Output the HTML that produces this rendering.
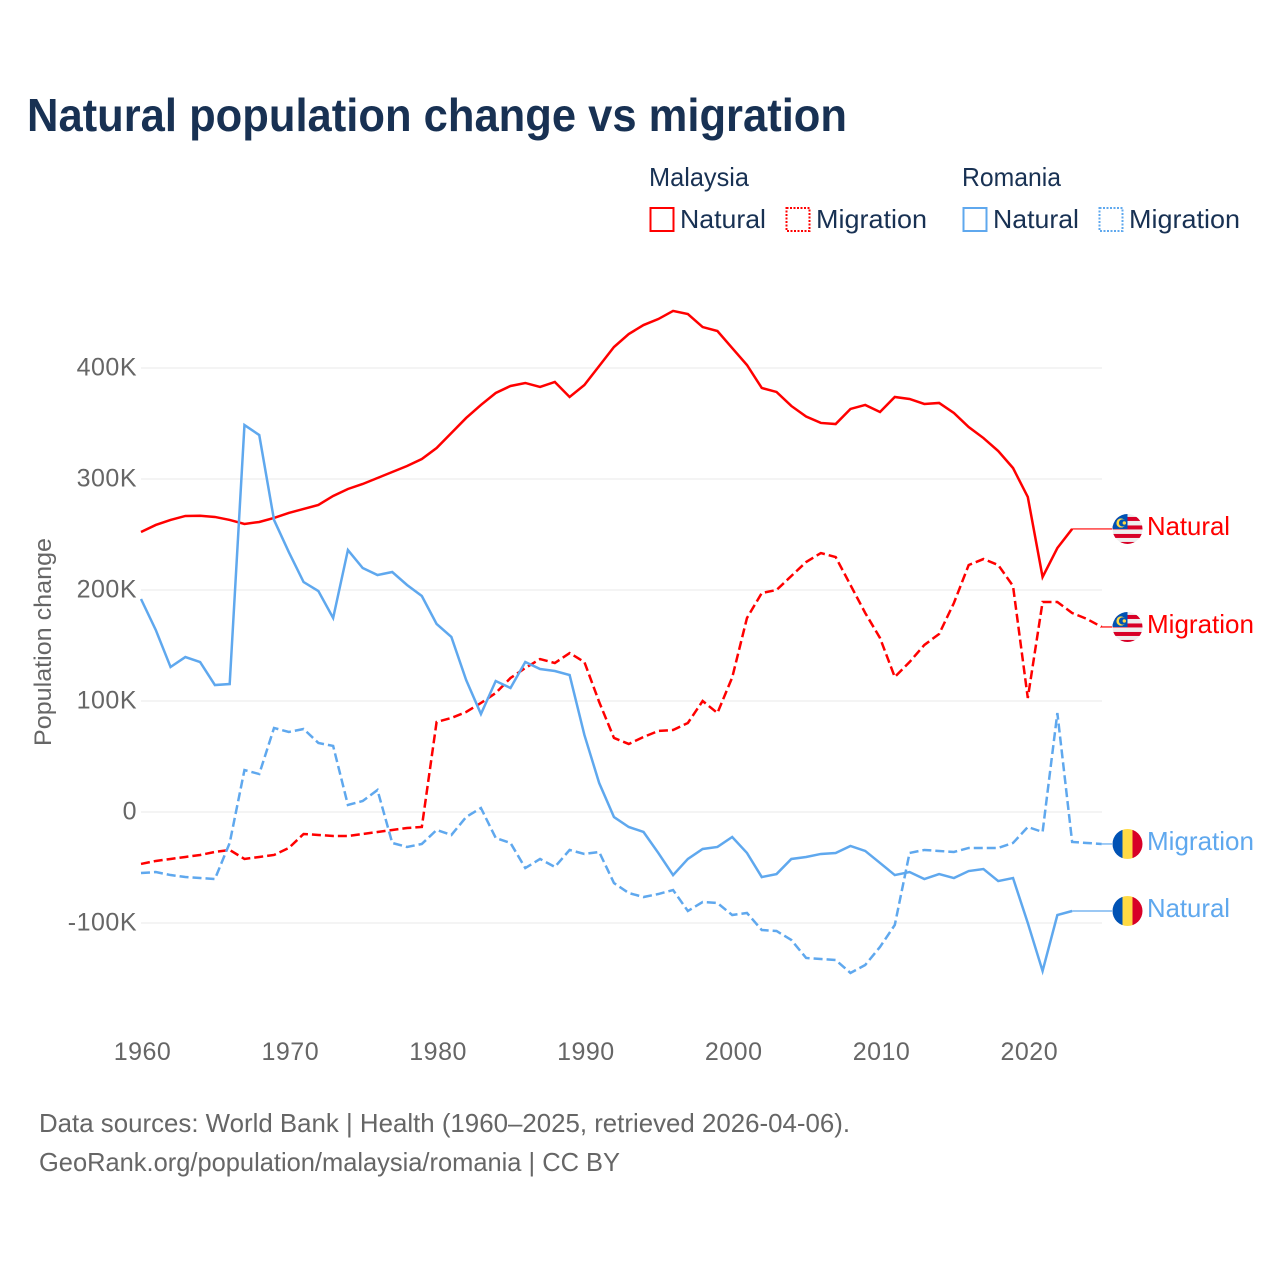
<!DOCTYPE html>
<html lang="en">
<head>
<meta charset="utf-8">
<title>Natural population change vs migration</title>
<style>
html,body{margin:0;padding:0;background:#fff;}
svg{display:block;font-family:"Liberation Sans",sans-serif;}
</style>
</head>
<body>
<svg id="chart" xmlns="http://www.w3.org/2000/svg" width="1280" height="1280" viewBox="0 0 1280 1280">
  <defs>
    <clipPath id="flag-clip"><circle cx="0" cy="0" r="15"/></clipPath>
  </defs>
  <rect x="0" y="0" width="1280" height="1280" fill="#fff"/>
  <text x="27" y="131" font-size="46" font-weight="700" fill="#183153" textLength="820" lengthAdjust="spacingAndGlyphs">Natural population change vs migration</text>

  <g font-size="26" fill="#183153">
    <text x="649" y="186" textLength="100" lengthAdjust="spacingAndGlyphs">Malaysia</text>
    <text x="962" y="186" textLength="99" lengthAdjust="spacingAndGlyphs">Romania</text>
    <rect x="650.5" y="208" width="23" height="23" fill="none" stroke="#ff0000" stroke-width="2"/>
    <text x="680" y="228" textLength="86" lengthAdjust="spacingAndGlyphs">Natural</text>
    <rect x="786.5" y="208" width="23" height="23" fill="none" stroke="#ff0000" stroke-width="2" stroke-dasharray="2 1.5"/>
    <text x="816" y="228" textLength="111" lengthAdjust="spacingAndGlyphs">Migration</text>
    <rect x="963.5" y="208" width="23" height="23" fill="none" stroke="#5fa8ee" stroke-width="2"/>
    <text x="993" y="228" textLength="86" lengthAdjust="spacingAndGlyphs">Natural</text>
    <rect x="1099.5" y="208" width="23" height="23" fill="none" stroke="#5fa8ee" stroke-width="2" stroke-dasharray="2 1.5"/>
    <text x="1129" y="228" textLength="111" lengthAdjust="spacingAndGlyphs">Migration</text>
  </g>

  <g id="grid"></g>
  <g id="y-ticks"></g>
  <g id="x-ticks"></g>
  <text transform="translate(51,642) rotate(-90)" text-anchor="middle" font-size="24.5" fill="#666" textLength="208" lengthAdjust="spacingAndGlyphs">Population change</text>
  <g id="series"></g>

  <g id="flag-my-natural"><use href="#flag-my"/></g>
  <g id="flag-my-migration"><use href="#flag-my"/></g>
  <g id="flag-ro-migration"><use href="#flag-ro"/></g>
  <g id="flag-ro-natural"><use href="#flag-ro"/></g>
  <defs>
    <g id="flag-my" clip-path="url(#flag-clip)">
      <rect x="-15" y="-15" width="30" height="30" fill="#eeeeee"/>
      <rect x="-15" y="-12" width="30" height="4" fill="#d80027"/>
      <rect x="-15" y="-3.5" width="30" height="4" fill="#d80027"/>
      <rect x="-15" y="5" width="30" height="4" fill="#d80027"/>
      <rect x="-15" y="13" width="30" height="3" fill="#d80027"/>
      <rect x="-15" y="-15" width="15" height="15" fill="#0052b4"/>
      <circle cx="-6.5" cy="-6" r="4.6" fill="#ffda44"/>
      <circle cx="-5" cy="-6" r="3.6" fill="#0052b4"/>
      <circle cx="-3.2" cy="-6" r="1.7" fill="#ffda44"/>
    </g>
    <g id="flag-ro" clip-path="url(#flag-clip)">
      <rect x="-15" y="-15" width="10" height="30" fill="#0052b4"/>
      <rect x="-5" y="-15" width="10" height="30" fill="#ffda44"/>
      <rect x="5" y="-15" width="10" height="30" fill="#d80027"/>
    </g>
  </defs>

  <text id="label-my-natural" x="1147" font-size="26" fill="#ff0000" textLength="83" lengthAdjust="spacingAndGlyphs">Natural</text>
  <text id="label-my-migration" x="1147" font-size="26" fill="#ff0000" textLength="107" lengthAdjust="spacingAndGlyphs">Migration</text>
  <text id="label-ro-migration" x="1147" font-size="26" fill="#5fa8ee" textLength="107" lengthAdjust="spacingAndGlyphs">Migration</text>
  <text id="label-ro-natural" x="1147" font-size="26" fill="#5fa8ee" textLength="83" lengthAdjust="spacingAndGlyphs">Natural</text>

  <g font-size="26" fill="#666">
    <text x="39" y="1132" textLength="811" lengthAdjust="spacingAndGlyphs">Data sources: World Bank | Health (1960–2025, retrieved 2026-04-06).</text>
    <text x="39" y="1171" textLength="581" lengthAdjust="spacingAndGlyphs">GeoRank.org/population/malaysia/romania | CC BY</text>
  </g>
</svg>
<script>
const startYear = 1960;
const yTickValues = [400, 300, 200, 100, 0, -100];
const yTickLabels = ['400K', '300K', '200K', '100K', '0', '-100K'];
const xTickYears = [1960, 1970, 1980, 1990, 2000, 2010, 2020];

const malaysiaNatural = [252.3,258.6,263.1,266.7,266.9,265.8,263.1,259.5,261.3,264.9,269.4,273,276.6,284.7,291,295.5,300.9,306.3,311.7,318,327.9,341.4,355,366.7,377.5,383.8,386.5,382.9,387.4,373.9,384.7,401.8,418.9,430.6,438.7,444.1,451.4,448.6,436.9,433.3,418,402.7,382,378.4,365.8,356.3,350.5,349.5,363.1,366.7,360.4,373.9,372.1,367.6,368.5,359.5,346.8,336.9,325.2,309.9,283.8,211.7,237.8,255];
const malaysiaMigration = [-46.8,-44.1,-42.3,-40.5,-38.7,-36,-34.2,-42.3,-40.5,-38.7,-32.4,-19.8,-20.7,-21.6,-21.6,-19.8,-18,-16.2,-14.4,-13.5,81.1,84.7,90.1,98.2,107.2,120.7,129.7,137.8,134.2,143.2,135.1,99.1,66.7,61.3,67.6,73,73.9,80.2,100,89.2,121.2,174.8,197.3,200,212.6,225.2,233.3,229.7,204.5,179.3,156.8,121.6,135.1,150.5,160.4,188.3,222.5,227.9,222.5,203.6,102.7,189.2,189.2,179.3,173.9,166.7];
const romaniaNatural = [191.9,164,130.6,139.6,135.1,114.4,115.3,348.6,339.6,263.1,234.2,207.2,199.1,174.8,236,219.8,213.5,216.2,204.5,194.6,169.4,157.7,118.9,88.3,118,111.7,135.1,128.8,127,123.4,69.4,26.1,-4.5,-13.5,-18,-36.9,-56.8,-42.3,-33.3,-31.5,-22.5,-36.9,-58.6,-55.9,-42.3,-40.5,-37.8,-36.9,-30.6,-35.1,-45.9,-56.8,-54.1,-60.4,-55.9,-59.5,-53.2,-51.4,-62.2,-59.5,-100,-143.2,-92.8,-89.2];
const romaniaMigration = [-55,-54.1,-56.8,-58.6,-59.5,-60.4,-27.9,37.8,34.2,75.7,72.1,74.8,62.2,59.5,6.3,9.9,19.8,-27.9,-31.5,-28.8,-16.2,-20.7,-4.5,3.6,-23.4,-27.9,-50.5,-42.3,-49.5,-34.2,-37.8,-36,-64,-73,-76.6,-73.9,-70.3,-89.2,-81.1,-82,-92.8,-91,-106.3,-107.2,-115.3,-131.5,-132.4,-133.3,-145,-137.8,-121.6,-101.8,-36.9,-34.2,-35.1,-36,-32.4,-32.4,-32.4,-27.9,-13.5,-18,89.2,-27,-27.9,-28.8];

const SVG_NS = 'http://www.w3.org/2000/svg';
const plotLeft = 141, plotRight = 1102, endX = 1112;
function xScale(year) { return 141 + (year - startYear) * 14.78; }
function yScale(v) { return 812 - v * 1.11; }

const grid = document.getElementById('grid');
const yAxis = document.getElementById('y-ticks');
const xAxis = document.getElementById('x-ticks');
const seriesLayer = document.getElementById('series');

yTickValues.forEach(function (v, i) {
  const line = document.createElementNS(SVG_NS, 'line');
  
  
  line.setAttribute('x1', plotLeft);
  line.setAttribute('x2', plotRight);
  line.setAttribute('y1', yScale(v));
  line.setAttribute('y2', yScale(v));
  line.setAttribute('stroke', '#e8e8e8');
  line.setAttribute('stroke-width', '1');
  grid.appendChild(line);
  const t = document.createElementNS(SVG_NS, 'text');
  
  
  t.setAttribute('x', 137);
  t.setAttribute('y', yScale(v) + 7.5);
  t.setAttribute('text-anchor', 'end');
  t.setAttribute('font-size', '25');
  t.setAttribute('letter-spacing', '0.5');
  t.setAttribute('fill', '#666');
  t.textContent = yTickLabels[i];
  yAxis.appendChild(t);
});

xTickYears.forEach(function (yr) {
  const t = document.createElementNS(SVG_NS, 'text');
  
  
  t.setAttribute('x', xScale(yr) + 1.5);
  t.setAttribute('y', 1060);
  t.setAttribute('text-anchor', 'middle');
  t.setAttribute('font-size', '25');
  t.setAttribute('letter-spacing', '0.5');
  t.setAttribute('fill', '#666');
  t.textContent = String(yr);
  xAxis.appendChild(t);
});

function drawSeries(values, color, dashed, name, flagId, labelId) {
  const pts = values.map(function (v, i) { return xScale(startYear + i).toFixed(2) + ',' + yScale(v).toFixed(2); });
  const lastX = xScale(startYear + values.length - 1);
  const lastY = yScale(values[values.length - 1]);
  const conn = document.createElementNS(SVG_NS, 'line');
  
  
  conn.setAttribute('x1', lastX);
  conn.setAttribute('x2', endX);
  conn.setAttribute('y1', lastY);
  conn.setAttribute('y2', lastY);
  conn.setAttribute('stroke', color);
  conn.setAttribute('stroke-width', '1.2');
  seriesLayer.appendChild(conn);
  const path = document.createElementNS(SVG_NS, 'polyline');
  
  
  path.setAttribute('points', pts.join(' '));
  path.setAttribute('fill', 'none');
  path.setAttribute('stroke', color);
  path.setAttribute('stroke-width', '2.5');
  if (dashed) path.setAttribute('stroke-dasharray', '9 4');
  seriesLayer.appendChild(path);
  document.getElementById(flagId).setAttribute('transform', 'translate(1127.5,' + lastY + ')');
  document.getElementById(labelId).setAttribute('y', lastY + 6);
}

drawSeries(malaysiaNatural, '#ff0000', false, 'malaysia-natural', 'flag-my-natural', 'label-my-natural');
drawSeries(malaysiaMigration, '#ff0000', true, 'malaysia-migration', 'flag-my-migration', 'label-my-migration');
drawSeries(romaniaNatural, '#5fa8ee', false, 'romania-natural', 'flag-ro-natural', 'label-ro-natural');
drawSeries(romaniaMigration, '#5fa8ee', true, 'romania-migration', 'flag-ro-migration', 'label-ro-migration');
</script>
</body>
</html>
